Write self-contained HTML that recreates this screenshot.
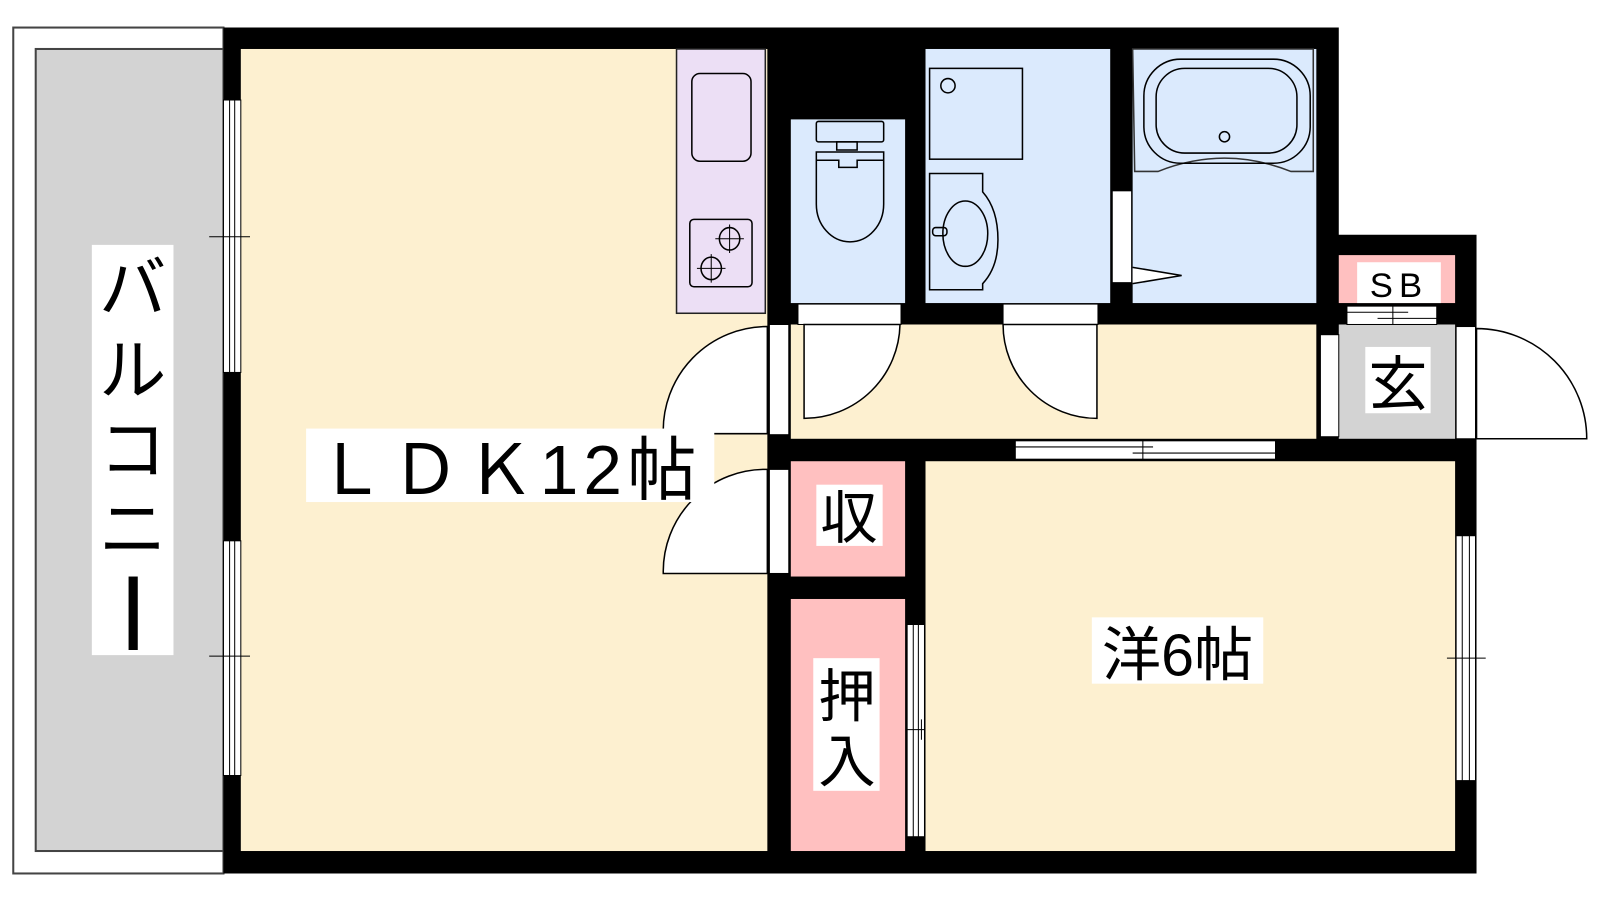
<!DOCTYPE html>
<html><head><meta charset="utf-8"><style>
html,body{margin:0;padding:0;background:#fff;width:1600px;height:900px;overflow:hidden}
svg{display:block}
text{font-family:"Liberation Sans","Noto Sans CJK JP",sans-serif;fill:#000}
</style></head><body>
<svg width="1600" height="900" viewBox="0 0 1568 882" xmlns="http://www.w3.org/2000/svg">
<!-- balcony -->
<rect x="13" y="27" width="206" height="829" fill="#fff" stroke="#444" stroke-width="2"/>
<rect x="35" y="48" width="184" height="786" fill="#d3d3d3" stroke="#444" stroke-width="2"/>
<rect x="90" y="240" width="80" height="402" fill="#fff"/>
<text x="130" y="306" font-size="66" text-anchor="middle">バ</text>
<text x="130" y="386" font-size="66" text-anchor="middle">ル</text>
<text x="130" y="464" font-size="66" text-anchor="middle">コ</text>
<text x="130" y="542" font-size="66" text-anchor="middle">ニ</text>
<rect x="126" y="565" width="9" height="72" fill="#000"/>
<!-- outer black mass -->
<path d="M219 27 H1312 V230 H1447 V856 H219 Z" fill="#000"/>
<!-- LDK -->
<rect x="236" y="48" width="516" height="786" fill="#fdf0d0"/>
<!-- kitchen -->
<rect x="663" y="48" width="87" height="259" fill="#ecdff5" stroke="#222" stroke-width="1.5"/>
<rect x="678" y="72" width="58" height="86" rx="8" fill="none" stroke="#000" stroke-width="1.5"/>
<rect x="676" y="215" width="61" height="66" rx="4" fill="none" stroke="#000" stroke-width="1.5"/>
<ellipse cx="715" cy="234" rx="10" ry="11" fill="none" stroke="#000" stroke-width="1.5"/>
<ellipse cx="697" cy="263" rx="10" ry="11" fill="none" stroke="#000" stroke-width="1.5"/>
<path d="M715 220v28M701 234h28M697 249v28M683 263h28" stroke="#000" stroke-width="1"/>
<!-- toilet -->
<rect x="775" y="117" width="112" height="180" fill="#dbeafd"/>
<rect x="800" y="119" width="66" height="20" rx="2" fill="none" stroke="#000" stroke-width="1.5"/>
<rect x="820" y="139" width="20" height="8" fill="none" stroke="#000" stroke-width="1.5"/>
<path d="M800 149 H866 V200 A33 37 0 0 1 800 200 Z" fill="none" stroke="#000" stroke-width="1.5"/>
<path d="M800 157 H822 V164 H840 V157 H866" fill="none" stroke="#000" stroke-width="1.5"/>
<!-- washroom -->
<rect x="907" y="48" width="181" height="249" fill="#dbeafd"/>
<rect x="911" y="67" width="91" height="89" fill="none" stroke="#000" stroke-width="1.5"/>
<circle cx="929" cy="84" r="7" fill="none" stroke="#000" stroke-width="1.5"/>
<path d="M911 170 H963 V188 Q978 205 978 235 Q978 262 963 278 V284 H911 Z" fill="none" stroke="#000" stroke-width="1.5"/>
<ellipse cx="946" cy="229" rx="22" ry="32" fill="none" stroke="#000" stroke-width="1.5"/>
<rect x="914" y="223" width="14" height="8" rx="3" fill="none" stroke="#000" stroke-width="1.5"/>
<!-- bath -->
<rect x="1110" y="48" width="180" height="249" fill="#dbeafd"/>
<path d="M1110 48 H1287 V168 H1265 Q1200 142 1135 168 H1112 Z" fill="none" stroke="#333" stroke-width="1.5"/>
<rect x="1121" y="58" width="163" height="102" rx="36" fill="none" stroke="#000" stroke-width="1.5"/>
<rect x="1133" y="67" width="138" height="83" rx="28" fill="none" stroke="#000" stroke-width="1.5"/>
<circle cx="1200" cy="134" r="5" fill="none" stroke="#000" stroke-width="1.5"/>
<rect x="1090" y="187" width="19" height="90" fill="#fff" stroke="#000" stroke-width="1"/>
<path d="M1110 262 L1158 270 L1110 278" fill="#fff" stroke="#000" stroke-width="1.5"/>
<!-- hallway -->
<rect x="775" y="318" width="515" height="112" fill="#fdf0d0"/>
<!-- entrance -->
<rect x="1312" y="318" width="114" height="112" fill="#d3d3d3"/>
<rect x="1312" y="250" width="114" height="47" fill="#ffc0c0"/>
<rect x="1330" y="257" width="82" height="40" fill="#fff"/>
<text x="1371" y="291" font-size="34" text-anchor="middle" letter-spacing="6">SB</text>
<rect x="1320" y="300" width="88" height="18" fill="#fff" stroke="#000" stroke-width="1"/>
<path d="M1320 306 H1380 M1350 312 H1408 M1365 300 V318" stroke="#000" stroke-width="1"/>
<rect x="1338" y="340" width="64" height="65" fill="#fff"/>
<text x="1370" y="397" font-size="58" text-anchor="middle">玄</text>
<rect x="1294" y="328" width="18" height="100" fill="#fff" stroke="#000" stroke-width="1"/>
<rect x="1427" y="320" width="19" height="110" fill="#fff" stroke="#000" stroke-width="1"/>
<path d="M1447 430 H1555 A108 108 0 0 0 1447 322 Z" fill="#fff" stroke="#000" stroke-width="1.5"/>
<!-- toilet/wash doors -->
<rect x="782" y="298" width="101" height="20" fill="#fff" stroke="#000" stroke-width="1"/>
<path d="M788 318 V410 A94 94 0 0 0 882 318 Z" fill="#fff" stroke="#000" stroke-width="1.5"/>
<rect x="983" y="298" width="93" height="20" fill="#fff" stroke="#000" stroke-width="1"/>
<path d="M1075 318 V410 A92 92 0 0 1 983 318 Z" fill="#fff" stroke="#000" stroke-width="1.5"/>
<!-- LDK doors -->
<rect x="754" y="318" width="19" height="108" fill="#fff" stroke="#000" stroke-width="1"/>
<path d="M752 425 H650 A102 102 0 0 1 752 320 Z" fill="#fff" stroke="#000" stroke-width="1.5"/>
<rect x="754" y="460" width="19" height="102" fill="#fff" stroke="#000" stroke-width="1"/>
<path d="M752 562 H650 A100 100 0 0 1 752 460 Z" fill="#fff" stroke="#000" stroke-width="1.5"/>
<!-- sliding door hallway/western -->
<rect x="995" y="432" width="255" height="18" fill="#fff" stroke="#000" stroke-width="1"/>
<path d="M995 438 H1130 M1110 444 H1250 M1120 432 V450" stroke="#000" stroke-width="1"/>
<!-- closets -->
<rect x="775" y="452" width="112" height="113" fill="#ffc0c0"/>
<rect x="800" y="475" width="65" height="60" fill="#fff"/>
<text x="832" y="527" font-size="56" text-anchor="middle">収</text>
<rect x="775" y="587" width="112" height="247" fill="#ffc0c0"/>
<rect x="797" y="645" width="65" height="130" fill="#fff"/>
<text x="830" y="702" font-size="56" text-anchor="middle">押</text>
<text x="830" y="766" font-size="56" text-anchor="middle">入</text>
<rect x="889" y="612" width="17" height="208" fill="#fff" stroke="#000" stroke-width="1"/>
<path d="M895 612 V820 M900 612 V820 M889 715 H906 M903 705 V725" stroke="#000" stroke-width="1"/>
<!-- western room -->
<rect x="907" y="452" width="519" height="382" fill="#fdf0d0"/>
<rect x="1070" y="605" width="168" height="65" fill="#fff"/>
<text x="1154" y="662" font-size="58" text-anchor="middle">洋6帖</text>
<rect x="1427" y="525" width="19" height="240" fill="#fff" stroke="#000" stroke-width="1"/>
<path d="M1433 525 V765 M1440 525 V765 M1418 645 H1456" stroke="#000" stroke-width="1"/>
<!-- left windows -->
<rect x="219" y="98" width="17" height="267" fill="#fff" stroke="#000" stroke-width="1"/>
<path d="M225 98 V365 M230 98 V365 M205 232 H245" stroke="#000" stroke-width="1"/>
<rect x="219" y="530" width="17" height="230" fill="#fff" stroke="#000" stroke-width="1"/>
<path d="M225 530 V760 M230 530 V760 M205 643 H245" stroke="#000" stroke-width="1"/>
<!-- LDK label -->
<rect x="300" y="420" width="400" height="72" fill="#fff"/>
<text x="310" y="484" font-size="68" letter-spacing="5">ＬＤＫ12帖</text>
</svg>
</body></html>
